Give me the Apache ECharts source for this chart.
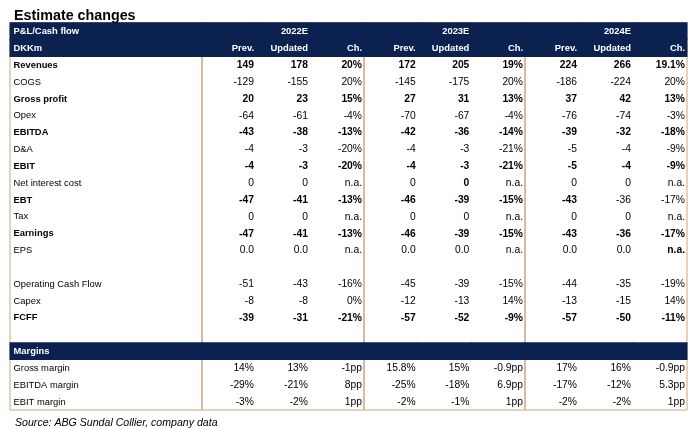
<!DOCTYPE html>
<html>
<head>
<meta charset="utf-8">
<script src="https://cdn.jsdelivr.net/npm/echarts@6/dist/echarts.min.js"></script>
<style>
    html, body { margin: 0; padding: 0; background: #fff; }
    #chartTable { width: 698px; height: 429px; }
</style>
</head>
<body>
<div id="chartTable"></div>
<script>
    // rows of the table (0..20), '' = blank row, 'Margins' is a header band
    const rowLabels = ['Revenues', 'COGS', 'Gross profit', 'Opex', 'EBITDA', 'D&A', 'EBIT', 'Net interest cost',
        'EBT', 'Tax', 'Earnings', 'EPS', '', 'Operating Cash Flow', 'Capex', 'FCFF', '', 'Margins',
        'Gross margin', 'EBITDA margin', 'EBIT margin']
    const boldRows = [0, 2, 4, 6, 8, 10, 15]
    const bandRows = [17]
    const years = ['2022E', '2023E', '2024E']
    const colNames = ['Prev.', 'Updated', 'Ch.']

    const prev2022 = ['149', '-129', '20', '-64', '-43', '-4', '-4', '0', '-47', '0', '-47', '0.0', '', '-51', '-8', '-39', '', '', '14%', '-29%', '-3%']
    const upd2022  = ['178', '-155', '23', '-61', '-38', '-3', '-3', '0', '-41', '0', '-41', '0.0', '', '-43', '-8', '-31', '', '', '13%', '-21%', '-2%']
    const ch2022   = ['20%', '20%', '15%', '-4%', '-13%', '-20%', '-20%', 'n.a.', '-13%', 'n.a.', '-13%', 'n.a.', '', '-16%', '0%', '-21%', '', '', '-1pp', '8pp', '1pp']
    const prev2023 = ['172', '-145', '27', '-70', '-42', '-4', '-4', '0', '-46', '0', '-46', '0.0', '', '-45', '-12', '-57', '', '', '15.8%', '-25%', '-2%']
    const upd2023  = ['205', '-175', '31', '-67', '-36', '-3', '-3', '0', '-39', '0', '-39', '0.0', '', '-39', '-13', '-52', '', '', '15%', '-18%', '-1%']
    const ch2023   = ['19%', '20%', '13%', '-4%', '-14%', '-21%', '-21%', 'n.a.', '-15%', 'n.a.', '-15%', 'n.a.', '', '-15%', '14%', '-9%', '', '', '-0.9pp', '6.9pp', '1pp']
    const prev2024 = ['224', '-186', '37', '-76', '-39', '-5', '-5', '0', '-43', '0', '-43', '0.0', '', '-44', '-13', '-57', '', '', '17%', '-17%', '-2%']
    const upd2024  = ['266', '-224', '42', '-74', '-32', '-4', '-4', '0', '-36', '0', '-36', '0.0', '', '-35', '-15', '-50', '', '', '16%', '-12%', '-2%']
    const ch2024   = ['19.1%', '20%', '13%', '-3%', '-18%', '-9%', '-9%', 'n.a.', '-17%', 'n.a.', '-17%', 'n.a.', '', '-19%', '14%', '-11%', '', '', '-0.9pp', '5.3pp', '1pp']

    // cells whose weight differs from their row: [group, col, row, bold]
    const boldOverrides = [[1, 1, 7, true], [2, 1, 8, false], [2, 2, 8, false], [2, 2, 11, true]]

    const groups = [[prev2022, upd2022, ch2022], [prev2023, upd2023, ch2023], [prev2024, upd2024, ch2024]]

    const navy = '#0b2251'
    const tan = '#d0a47c'
    const fontFamily = '"Liberation Sans", Arial, sans-serif'

    // y categories: 2 header rows + 21 body rows
    const rowKeys = ['h1', 'h2'].concat(rowLabels.map(function (l, i) { return 'r' + i }))

    function isBold(g, c, r) {
        for (var i = 0; i < boldOverrides.length; i++) {
            const o = boldOverrides[i]
            if (o[0] === g && o[1] === c && o[2] === r) return o[3]
        }
        return boldRows.indexOf(r) >= 0
    }

    const chart = echarts.init(document.getElementById('chartTable'))

    const grids = [
        { left: 10, width: 192, top: 22.7, height: 387.3 },
        { left: 202, width: 162, top: 22.7, height: 387.3 },
        { left: 364, width: 161, top: 22.7, height: 387.3 },
        { left: 525, width: 162, top: 22.7, height: 387.3 }
    ].map(function (g) {
        return Object.assign({ show: true, borderColor: tan, borderWidth: 1, backgroundColor: 'transparent' }, g)
    })

    const xAxes = grids.map(function (g, i) {
        return { type: 'category', gridIndex: i, data: i === 0 ? ['label'] : colNames, show: false }
    })
    const yAxes = grids.map(function (g, i) {
        return { type: 'category', gridIndex: i, data: rowKeys, inverse: true, show: false }
    })

    // band cells (header rows + Margins)
    function bandData(nCols) {
        const out = []
        const rows = [0, 1].concat(bandRows.map(function (r) { return r + 2 }))
        rows.forEach(function (r) {
            for (var c = 0; c < nCols; c++) out.push([c, r])
        })
        return out
    }
    function renderBand(params, api) {
        const p = api.coord([api.value(0), api.value(1)])
        const s = api.size([1, 1])
        return {
            type: 'rect',
            shape: { x: p[0] - s[0] / 2 - 0.5, y: p[1] - s[1] / 2 - 0.5, width: s[0] + 1, height: s[1] + 1 },
            style: { fill: navy }
        }
    }

    // text cells
    const labelCells = []
    labelCells.push({ c: 0, r: 0, text: 'P&L/Cash flow', bold: true, white: true })
    labelCells.push({ c: 0, r: 1, text: 'DKKm', bold: true, white: true })
    rowLabels.forEach(function (l, i) {
        if (l === '') return
        labelCells.push({ c: 0, r: i + 2, text: l, bold: boldRows.indexOf(i) >= 0 || bandRows.indexOf(i) >= 0, white: bandRows.indexOf(i) >= 0 })
    })

    function groupCells(g) {
        const cells = []
        cells.push({ c: 1, r: 0, text: years[g], bold: true, white: true })
        colNames.forEach(function (n, c) {
            cells.push({ c: c, r: 1, text: n, bold: true, white: true })
        })
        groups[g].forEach(function (col, c) {
            col.forEach(function (v, r) {
                if (v === '') return
                cells.push({ c: c, r: r + 2, text: v, bold: isBold(g, c, r), white: false, num: true })
            })
        })
        return cells
    }

    function textSeries(gridIndex, cells, alignLeft) {
        return {
            type: 'custom',
            xAxisIndex: gridIndex,
            yAxisIndex: gridIndex,
            z: 5,
            data: cells.map(function (d) { return [d.c, d.r] }),
            renderItem: function (params, api) {
                const d = cells[params.dataIndex]
                const p = api.coord([api.value(0), api.value(1)])
                const s = api.size([1, 1])
                const size = d.num ? 10.3 : 9.4
                return {
                    type: 'text',
                    style: {
                        text: d.text,
                        x: alignLeft ? p[0] - s[0] / 2 + 3.5 : p[0] + s[0] / 2 - 2,
                        y: p[1] + 0.5,
                        align: alignLeft ? 'left' : 'right',
                        verticalAlign: 'middle',
                        fill: d.white ? '#ffffff' : '#000000',
                        font: (d.bold ? 'bold ' : '') + size + 'px ' + fontFamily
                    }
                }
            }
        }
    }

    const series = []
    grids.forEach(function (g, i) {
        const nCols = i === 0 ? 1 : 3
        series.push({
            type: 'custom',
            xAxisIndex: i,
            yAxisIndex: i,
            z: 2,
            silent: true,
            data: bandData(nCols),
            renderItem: renderBand
        })
    })
    series.push(textSeries(0, labelCells, true))
    for (var g = 0; g < 3; g++) {
        series.push(textSeries(g + 1, groupCells(g), false))
    }

    chart.setOption({
        animation: false,
        backgroundColor: '#fff',
        title: [
            {
                text: 'Estimate changes',
                left: 9,
                top: 4,
                textStyle: { fontFamily: fontFamily, fontSize: 14.3, fontWeight: 'bold', color: '#000' }
            },
            {
                text: 'Source: ABG Sundal Collier, company data',
                left: 10,
                top: 413,
                textStyle: { fontFamily: fontFamily, fontSize: 10.6, fontWeight: 'normal', fontStyle: 'italic', color: '#000' }
            }
        ],
        grid: grids,
        xAxis: xAxes,
        yAxis: yAxes,
        series: series
    })
</script>
</body>
</html>
